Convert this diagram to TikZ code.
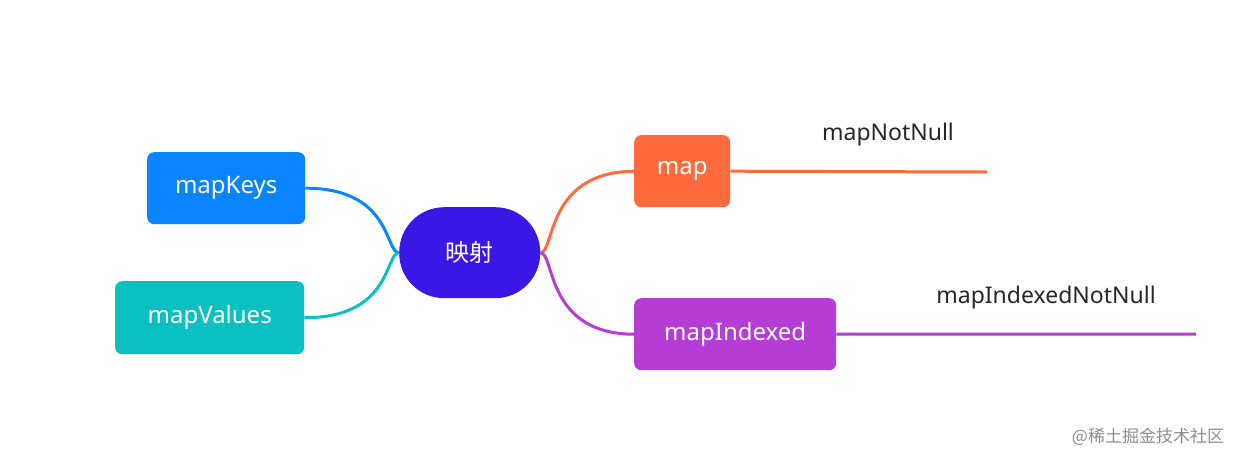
\documentclass[tikz,border=0pt]{standalone}
\usepackage{fontspec}
\setmainfont{Noto Sans}
\newfontfamily\cjk{Noto Sans CJK SC}
\definecolor{colC}{HTML}{3A17E6}
\definecolor{colK}{HTML}{0A84FF}
\definecolor{colV}{HTML}{0BC0C0}
\definecolor{colM}{HTML}{FF6B3D}
\definecolor{colI}{HTML}{B63CD6}
\begin{document}
\begin{tikzpicture}[x=1pt,y=-1pt,
  box/.style={rounded corners=7pt,text=white,font=\fontsize{24}{28}\selectfont\bfseries,inner sep=0pt,anchor=north west},
  lab/.style={font=\fontsize{23}{27}\selectfont,text=black!85},
  conn/.style={line width=3pt}]
\useasboundingbox (0,0) rectangle (1234,453);
\node[box,fill=colC,rounded corners=45pt,minimum width=141pt,minimum height=91pt] (c) at (399,207) {\cjk\mdseries 映射};
\node[box,fill=colK,minimum width=158pt,minimum height=72pt] (k) at (147,152) {mapKeys};
\node[box,fill=colV,minimum width=189pt,minimum height=73pt] (v) at (115,281) {mapValues};
\node[box,fill=colM,minimum width=96pt,minimum height=72pt] (m) at (634,135) {map};
\node[box,fill=colI,minimum width=202pt,minimum height=72pt] (i) at (634,298) {mapIndexed};
\coordinate (me) at (987,172);
\coordinate (ie) at (1196,334);
\node[lab] (mn) at (888,135) {mapNotNull};
\node[lab] (in) at (1046,298) {mapIndexedNotNull};
\node[font=\cjk\fontsize{17}{20}\selectfont,text=black!45] (w) at (1148,437) {@稀土掘金技术社区};
\draw[conn,colK] (c.west) .. controls (385,253) and (392,188) .. (k.east) ;
\draw[conn,colV] (c.west) .. controls (385,253) and (392,318) .. (v.east);
\draw[conn,colM] (c.east) .. controls (555,253) and (545,172) .. (m.west);
\draw[conn,colI] (c.east) .. controls (555,253) and (545,334) .. (i.west);
\draw[conn,colM] (m.east) -- (me);
\draw[conn,colI] (i.east) -- (ie);
\end{tikzpicture}
\end{document}
